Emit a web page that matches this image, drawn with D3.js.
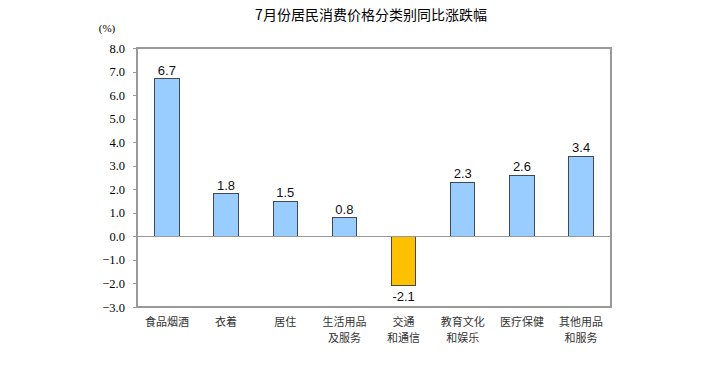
<!DOCTYPE html>
<html>
<head>
<meta charset="UTF-8">
<title>7月份居民消费价格分类别同比涨跌幅</title>
<style>
    body { margin: 0; background: #fff; }
    .frame { fill: none; stroke: #999; stroke-width: 1.3px; shape-rendering: crispEdges; }
    .bar { stroke: #404a55; stroke-width: 1px; shape-rendering: crispEdges; }
    .val { font-family: "Liberation Sans", Arial, sans-serif; font-size: 13px; fill: #111; text-anchor: middle; }
    .cat { font-family: "Noto Sans CJK SC", sans-serif; font-size: 11px; fill: #333; text-anchor: middle; }
</style>
</head>
<body>
<script src="https://cdn.jsdelivr.net/npm/d3@7"></script>
<script>
    var categories = [["食品烟酒"], ["衣着"], ["居住"], ["生活用品", "及服务"], ["交通", "和通信"],
        ["教育文化", "和娱乐"], ["医疗保健"], ["其他用品", "和服务"]];
    var values = [6.7, 1.8, 1.5, 0.8, -2.1, 2.3, 2.6, 3.4];
    var yTicks = [8, 7, 6, 5, 4, 3, 2, 1, 0, -1, -2, -3];

    var margin = {top: 48, left: 137, right: 108, bottom: 66},
        W = 719, H = 373,
        width = W - margin.left - margin.right,
        height = H - margin.top - margin.bottom;

    var svg = d3.select("body").append("svg")
        .attr("width", W).attr("height", H);

    svg.append("text")
        .attr("x", 371).attr("y", 20)
        .attr("text-anchor", "middle")
        .style("font-family", "'Noto Sans CJK SC', sans-serif")
        .style("font-size", "14px")
        .text("7月份居民消费价格分类别同比涨跌幅");

    svg.append("text")
        .attr("x", 107).attr("y", 32)
        .attr("text-anchor", "middle")
        .style("font-family", "'Liberation Serif', serif")
        .style("font-size", "11px")
        .text("(%)");

    var g = svg.append("g")
        .attr("transform", `translate(${margin.left},${margin.top})`);

    var x = d3.scaleBand()
        .domain(d3.range(categories.length))
        .range([0, width])
        .paddingInner(0.59).paddingOuter(0.3);

    var y = d3.scaleLinear().domain([-3, 8]).range([height, 0]);

    var yAxis = g.append("g")
        .call(d3.axisLeft(y).tickValues(yTicks).tickSize(4).tickPadding(8).tickFormat(d3.format(".1f")));
    yAxis.select(".domain").remove();
    yAxis.selectAll("line").attr("stroke", "#999").style("shape-rendering", "crispEdges");
    yAxis.selectAll("text")
        .style("font-family", "'Liberation Serif', 'DejaVu Serif', serif")
        .style("font-size", "12.5px")
        .attr("fill", "#000");

    g.selectAll(".bar")
        .data(values)
        .enter().append("rect")
        .attr("class", "bar")
        .attr("x", (d, i) => x(i))
        .attr("width", x.bandwidth())
        .attr("y", (d) => y(Math.max(0, d)))
        .attr("height", (d) => Math.abs(y(d) - y(0)))
        .attr("fill", (d) => d < 0 ? "#ffc000" : "#99ccff");

    g.append("line")
        .attr("x1", 0).attr("x2", width)
        .attr("y1", y(0)).attr("y2", y(0))
        .attr("stroke", "#999").attr("stroke-width", 1.3)
        .style("shape-rendering", "crispEdges");

    g.append("rect")
        .attr("class", "frame")
        .attr("width", width).attr("height", height);

    g.selectAll(".val")
        .data(values)
        .enter().append("text")
        .attr("class", "val")
        .attr("x", (d, i) => x(i) + x.bandwidth() / 2)
        .attr("y", (d) => d < 0 ? y(d) + 15 : y(d) - 4)
        .text((d) => d.toFixed(1));

    var cat = g.selectAll(".cat")
        .data(categories)
        .enter().append("text")
        .attr("class", "cat")
        .attr("transform", (d, i) => `translate(${x(i) + x.bandwidth() / 2},${height + 19})`);

    cat.selectAll("tspan")
        .data((d) => d)
        .enter().append("tspan")
        .attr("x", 0)
        .attr("dy", (d, i) => i === 0 ? 0 : 16)
        .text((d) => d);
</script>
</body>
</html>
